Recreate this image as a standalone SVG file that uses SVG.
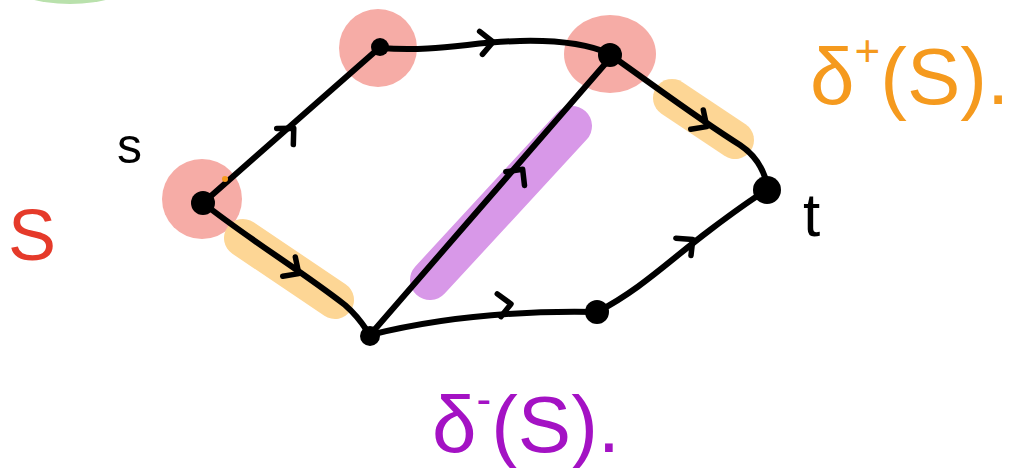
<svg xmlns="http://www.w3.org/2000/svg" width="1016" height="468" viewBox="0 0 1016 468">
<style>
.edge{fill:none;stroke:#000;stroke-width:6;stroke-linecap:round;stroke-linejoin:round}
.hl{fill:none;stroke-linecap:round}
.dot{fill:#000}
.lbl{font-family:"Liberation Sans",Arial,sans-serif}
</style>
<defs>
<path id="chev" d="M -12 -11 L 1 0 L -10 12" fill="none" stroke="#000" stroke-width="5.5" stroke-linecap="round" stroke-linejoin="round"/>
</defs>
<rect width="1016" height="468" fill="#fff"/>
<ellipse cx="70" cy="-18" rx="62" ry="22" fill="#b9e1ac"/>
<g id="highlights">
<circle cx="202" cy="199" r="40" fill="#f6aca6"/>
<circle cx="378" cy="48" r="39" fill="#f6aca6"/>
<ellipse cx="610" cy="54" rx="46" ry="39" fill="#f6aca6"/>
<path class="hl" d="M243 238 L335 300" stroke="#fdd695" stroke-width="38"/>
<path class="hl" d="M672 98 L735 140" stroke="#fdd695" stroke-width="38"/>
<path class="hl" d="M430 280 L572 126" stroke="#d898e8" stroke-width="40"/>
</g>
<g id="connectors">
<path class="edge" d="M203 203 L378 49"/>
<path class="edge" d="M380 48 C440 52 470 42 520 41 C560 40 590 45 610 54"/>
<path class="edge" d="M612 56 C660 90 700 120 740 145 C755 155 765 170 768 190"/>
<path class="edge" d="M203 203 C250 240 300 270 345 305 C360 318 365 328 370 335"/>
<path class="edge" d="M370 335 L612 56"/>
<path class="edge" d="M370 335 C430 320 500 310 597 312"/>
<path class="edge" d="M597 312 C640 290 670 260 710 230 C730 215 750 200 767 190"/>
<use href="#chev" transform="translate(293,129) rotate(-41)"/>
<use href="#chev" transform="translate(492,42) rotate(-2)"/>
<use href="#chev" transform="translate(706,126) rotate(38)"/>
<use href="#chev" transform="translate(298,273) rotate(38)"/>
<use href="#chev" transform="translate(522,170) rotate(-49)"/>
<use href="#chev" transform="translate(510,304) rotate(-4)"/>
<use href="#chev" transform="translate(692,240) rotate(-36)"/>
</g>
<g id="node-s"><circle class="dot" cx="203" cy="203" r="12"/></g>
<g id="node-a"><circle class="dot" cx="380" cy="47" r="9"/></g>
<g id="node-b"><circle class="dot" cx="610" cy="55" r="12"/></g>
<g id="node-t"><circle class="dot" cx="767" cy="190" r="14"/></g>
<g id="node-c"><circle class="dot" cx="370" cy="336" r="10"/></g>
<g id="node-d"><circle class="dot" cx="597" cy="312" r="12"/></g>
<circle cx="225" cy="179" r="3" fill="#f59a1e"/>
<g id="labels">
<text class="lbl" x="117" y="163" font-size="50" fill="#000">s</text>
<text class="lbl" x="8" y="260" font-size="72" fill="#e53a2a">S</text>
<text class="lbl" x="803" y="236" font-size="62" fill="#000">t</text>
<text class="lbl" x="810" y="104" font-size="80" fill="#f59a1e">δ<tspan font-size="44" dy="-38">+</tspan><tspan dy="38">(S).</tspan></text>
<text class="lbl" x="432" y="452" font-size="80" fill="#a412c4">δ<tspan font-size="44" dy="-38">-</tspan><tspan dy="38">(S).</tspan></text>
</g>
</svg>
